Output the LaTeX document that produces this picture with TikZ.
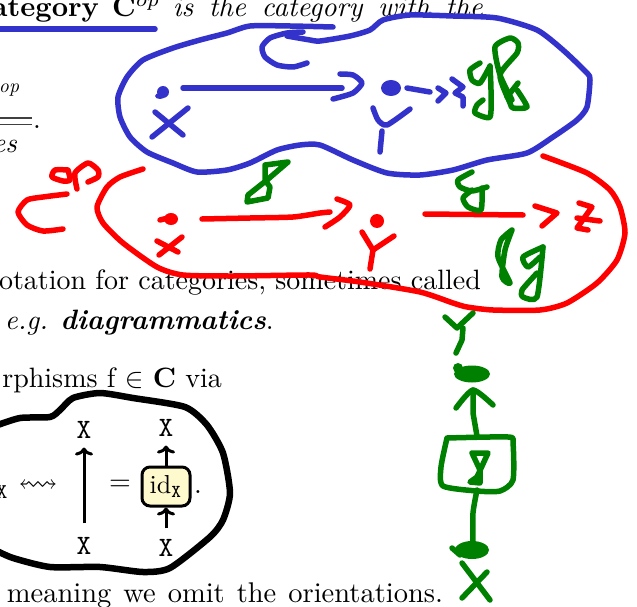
\documentclass[tikz,border=0pt]{standalone}
\usepackage{amsmath,amssymb}
\usetikzlibrary{arrows.meta}
\tikzset{
  x=1pt,y=-1pt,
  ink/.style={line width=#1,line cap=round,line join=round},
  blueink/.style={ink=5.5pt,draw=inkblue},
  redink/.style={ink=5.5pt,draw=red},
  greenink/.style={ink=5.5pt,draw=inkgreen},
  blackink/.style={ink=6.5pt,draw=black},
  txt/.style={inner sep=0pt,outer sep=0pt,scale=2.8},
  obj/.style={inner sep=0pt,outer sep=0pt,scale=2.8,font=\ttfamily},
  strand/.style={line width=3pt,-{To[length=8pt,width=18pt]}},
  morph/.style={draw,line width=3pt,fill=morphfill,rounded corners=8pt,minimum width=48pt,minimum height=39pt,inner sep=0pt},
  smoothpath/.style={smooth,tension=0.4}
}
\definecolor{inkblue}{RGB}{51,51,204}
\definecolor{inkgreen}{RGB}{0,128,0}
\definecolor{morphfill}{RGB}{255,250,205}
\begin{document}
\begin{tikzpicture}
\useasboundingbox (0,0) rectangle (637,607);
\clip (0,0) rectangle (637,607);
% text
\node[txt,scale=1.018,anchor=base east] (t1) at (483,17) {\textbf{Category\hspace{4.6pt}C}$^{op}$\hspace{4.4pt}{\spaceskip=5.5pt\textit{is the category with the}}};
\node[txt,anchor=base west,scale=0.7] (t2) at (-1,93) {\textit{op}};
\node[txt,anchor=base east] (t3) at (17,153) {\textit{es}};
\coordinate (d1a) at (0,118); \coordinate (d1b) at (32,118);
\coordinate (d2a) at (0,124.5); \coordinate (d2b) at (32,124.5);
\draw[line width=1.1pt,black!75] (d1a) -- (d1b);
\draw[line width=1.1pt,black!75] (d2a) -- (d2b);
\node[txt,anchor=base west] (t4) at (33,129) {.};
\node[txt,anchor=base east] (t5) at (481,289) {otation for categories, sometimes called};
\node[txt,anchor=base west] (t6) at (5,329) {\textit{e.g.} \textbf{\textit{diagrammatics}}.};
\node[txt,anchor=base east] (t7) at (222,387) {rphisms f $\in$ \textbf{C} via};
\node[txt,scale=1.018,anchor=base east] (t8) at (443,602) {\spaceskip=4.2pt meaning we omit the orientations.};
% small diagram
\node[obj,scale=0.75] (xl) at (2,492) {X};
\node[txt] (sq) at (38,486) {$\leftrightsquigarrow$};
\node[obj] (xt) at (84,430) {X};
\node[obj] (xb) at (84,546) {X};
\node[txt] (eq) at (120,485) {$=$};
\node[morph] (id) at (166,486.5) {\scalebox{2.6}{id$_{\texttt{X}}$}};
\node[txt,anchor=base west] (pd) at (194,493) {.};
\node[obj] (yt) at (166,428) {X};
\node[obj] (yb) at (166,548) {X};
\draw[strand] ([yshift=14pt]xb.north) -- ([yshift=-9pt]xt.south);
\draw[strand] ([yshift=11pt]yb.north) -- (id.south);
\draw[strand] (id.north) -- ([yshift=-9pt]yt.south);
% black outline
\draw[blackink] plot[smoothpath] coordinates {(-5,426)(20,418)(50,417)(60,410)(73,398)(100,393)(133,398)(185,407)(207,425)(223,453)(230,493)(223,520)(210,537)(170,568)(143,572)(100,567)(50,567)(13,558)(-5,550)};
% blue
\draw[blueink] (0,29) -- (155,29);
\draw[blueink] plot[smoothpath] coordinates {(287,36)(310,40)(320,41)(350,36)(370,30)(383,20)(410,15)(453,16)(497,18)(537,30)(563,50)(587,73)(590,80)(587,107)(577,120)(553,137)(527,153)(487,160)(453,170)(420,175)(387,173)(353,160)(320,145)(300,145)(277,150)(250,163)(227,170)(197,172)(173,163)(147,152)(130,137)(120,117)(118,97)(127,77)(143,60)(173,48)(200,40)(227,33)(250,26)(290,26)(333,27)};
\draw[blueink] plot[smoothpath] coordinates {(307,63)(293,67)(277,65)(265,57)(262,47)(270,38)(287,33)(303,32)};
\draw[blueink] (183,88) -- (342,88);
\draw[blueink] plot[smoothpath] coordinates {(340,74)(353,75)(362,83)(353,93)(333,99)};
\fill[inkblue] (163,92) ellipse (6 and 6);
\fill[inkblue] (160,96) ellipse (5 and 3);
\draw[blueink] (188,108) -- (152,137);
\draw[blueink] (155,112) -- (183,135);
\fill[inkblue] (391,88) ellipse (10 and 8);
\draw[blueink] (407,88) -- (430,92);
\draw[blueink] (438,88) -- (446,93) -- (438,101);
\draw[blueink] (452,79) -- (463,87) -- (455,93) -- (463,97) -- (463,106);
\draw[blueink] plot[smoothpath] coordinates {(373,108)(378,120)(387,125)(410,109)};
\draw[blueink] (382,131) -- (380,152);
% red
\draw[redink] plot[smoothpath] coordinates {(67,194)(43,197)(27,200)(18,212)(27,225)(43,231)(63,229)};
\draw[redink] plot[smoothpath] coordinates {(68,170)(55,170)(52,177)(63,181)(70,180)(68,170)};
\draw[redink] plot[smoothpath] coordinates {(77,189)(75,173)(88,163)(98,170)(98,177)(88,182)};
\draw[redink] plot[smoothpath] coordinates {(143,169)(120,177)(107,187)(97,207)(103,223)(123,243)(157,267)(183,275)(233,276)(310,275)(320,277)(360,282)(420,292)(453,303)(467,307)(493,310)(540,310)(567,303)(597,283)(617,260)(625,233)(620,207)(610,190)(587,173)(543,156)};
\fill[red] (171,219) ellipse (7 and 6);
\draw[redink] (160,220) -- (168,218);
\draw[redink] (182,237) -- (159,255);
\draw[redink] (157,241) -- (178,252);
\draw[redink] plot[smoothpath] coordinates {(202,219)(250,218)(293,217)(320,213)(330,212)};
\draw[redink] plot[smoothpath] coordinates {(337,199)(350,205)(340,217)(325,227)};
\fill[red] (377,221) circle (7);
\draw[redink] (362,232) -- (373,250) -- (394,236);
\draw[redink] (373,250) -- (370,269);
\draw[redink] (425,214) -- (523,215);
\draw[redink] (535,206) -- (557,213) -- (542,226);
\draw[redink] (579,203) -- (592,207) -- (577,228) -- (588,230);
\draw[redink] (577,218) -- (600,221);
% green
\draw[greenink] plot[smoothpath] coordinates {(480,63)(470,70)(472,80)(480,83)(490,66)};
\draw[greenink] plot[smoothpath] coordinates {(490,66)(491,90)(490,117)(475,113)(477,105)(483,100)};
\draw[greenink] plot[smoothpath] coordinates {(512,100)(500,75)(495,47)(510,38)(518,43)(517,53)(500,75)(510,103)(513,108)(527,107)(517,90)};
\draw[greenink] (518,83) -- (507,97);
\draw[greenink] plot coordinates {(288,162)(265,165)(265,180)(270,187)(268,198)(247,202)(248,195)(267,180)(288,162)};
\draw[greenink] plot[smoothpath] coordinates {(472,172)(458,180)(460,187)(472,191)(487,187)};
\draw[greenink] plot[smoothpath] coordinates {(482,188)(481,210)(468,207)(463,198)(472,190)};
\draw[greenink] plot[smoothpath] coordinates {(512,230)(501,240)(498,257)(510,283)(502,277)(505,250)(512,230)};
\draw[greenink] plot[smoothpath] coordinates {(543,247)(523,257)(528,267)(540,257)};
\draw[greenink] plot[smoothpath] coordinates {(543,247)(537,297)(523,297)(522,290)(537,273)};
\draw[greenink] (445,317) -- (457,328) -- (473,313);
\draw[greenink] (463,328) -- (462,340) -- (456,353);
\fill[inkgreen] (472,374) ellipse (18 and 8.5);
\fill[inkgreen] (458,368) circle (5);
\draw[greenink] (473,390) -- (473,413) -- (477,436);
\draw[greenink] plot[smoothpath] coordinates {(456,408)(473,390)(493,405)};
\draw[greenink] plot[smoothpath] coordinates {(447,438)(508,437)(513,443)(513,480)(500,491)(477,491)(443,486)(441,467)(447,438)};
\draw[greenink] plot coordinates {(472,453)(488,453)(477,477)(470,482)(480,483)(480,470)(472,453)};
\draw[greenink] plot[smoothpath] coordinates {(477,490)(473,513)(473,543)};
\fill[inkgreen] (472,550) ellipse (17 and 9);
\draw[greenink] (452,548) -- (460,555);
\draw[greenink] (462,563) -- (490,600);
\draw[greenink] (487,572) -- (462,598);
\end{tikzpicture}
\end{document}
